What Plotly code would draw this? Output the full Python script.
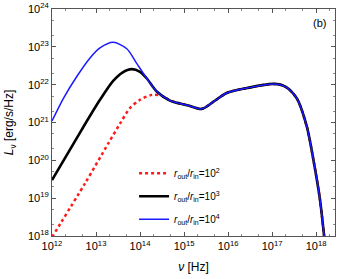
import plotly.graph_objects as go

# log10 frequency [Hz] and log10 luminosity [erg/s/Hz]
NU_R2 = [12.0, 12.75, 13.28, 13.55, 13.77, 14.0, 14.27, 14.49, 14.68, 14.91, 15.10, 15.40, 15.67, 15.97, 16.43, 17.03, 17.30, 17.56, 17.79, 17.94, 18.09, 18.18, 18.22]
L_R2 = [17.97, 19.39, 20.45, 20.98, 21.38, 21.60, 21.73, 21.71, 21.58, 21.50, 21.45, 21.36, 21.55, 21.78, 21.91, 22.02, 21.95, 21.64, 20.89, 20.01, 18.95, 18.03, 17.6]

NU_R3 = [12.0, 12.67, 13.09, 13.39, 13.60, 13.81, 14.00, 14.15, 14.38, 14.68, 14.91, 15.10, 15.40, 15.67, 15.97, 16.43, 17.03, 17.30, 17.56, 17.79, 17.94, 18.09, 18.18, 18.22]
L_R3 = [19.48, 20.80, 21.60, 22.10, 22.32, 22.41, 22.34, 22.17, 21.82, 21.58, 21.50, 21.45, 21.36, 21.55, 21.78, 21.91, 22.02, 21.95, 21.64, 20.89, 20.01, 18.95, 18.03, 17.6]

NU_R4 = [12.0, 12.26, 12.56, 12.86, 13.09, 13.39, 13.70, 13.92, 14.15, 14.38, 14.68, 14.91, 15.10, 15.40, 15.67, 15.97, 16.43, 17.03, 17.30, 17.56, 17.79, 17.94, 18.09, 18.18, 18.22]
L_R4 = [21.04, 21.64, 22.21, 22.70, 22.97, 23.12, 22.95, 22.57, 22.17, 21.82, 21.58, 21.50, 21.45, 21.36, 21.55, 21.78, 21.91, 22.02, 21.95, 21.64, 20.89, 20.01, 18.95, 18.03, 17.6]

LABELS = ["<i>r</i><sub>out</sub>/<i>r</i><sub>in</sub>=10<sup>2</sup>",
          "<i>r</i><sub>out</sub>/<i>r</i><sub>in</sub>=10<sup>3</sup>",
          "<i>r</i><sub>out</sub>/<i>r</i><sub>in</sub>=10<sup>4</sup>"]

X_TICKS = [12, 13, 14, 15, 16, 17, 18]
Y_TICKS = [18, 19, 20, 21, 22, 23, 24]

FONT = "Liberation Sans, Arial, sans-serif"

def lin(v):
    return [10.0 ** float(a) for a in v]

fig = go.Figure()
fig.add_trace(go.Scatter(x=lin(NU_R2), y=lin(L_R2), mode="lines", name=LABELS[0], legendgroup="a",
                         line=dict(color="#ff1a1a", width=2.5, dash="dot", shape="spline", smoothing=0.8)))
fig.add_trace(go.Scatter(x=lin(NU_R3), y=lin(L_R3), mode="lines", name=LABELS[1], legendgroup="b",
                         line=dict(color="black", width=2.6, shape="spline", smoothing=0.8)))
fig.add_trace(go.Scatter(x=lin(NU_R4), y=lin(L_R4), mode="lines", name=LABELS[2], legendgroup="c",
                         line=dict(color="#1a1aff", width=1.5, shape="spline", smoothing=0.8)))

axis_common = dict(
    type="log", showgrid=False, zeroline=False, showline=True, linecolor="#555555", linewidth=1,
    mirror="ticks", ticks="inside", ticklen=4, tickcolor="#555555", automargin=False,
    minor=dict(ticks="inside", ticklen=2, tickcolor="#888888", showgrid=False),
    tickfont=dict(family=FONT, size=11, color="black"),
)

fig.update_xaxes(**axis_common, range=[12, 18.43],
                 tickvals=lin(X_TICKS), ticktext=[f"10<sup>{t}</sup>" for t in X_TICKS],
                 title=dict(text="<i>ν</i> [Hz]", font=dict(family=FONT, size=12, color="black"), standoff=11))
fig.update_yaxes(**axis_common, range=[18, 24],
                 tickvals=lin(Y_TICKS), ticktext=[f"10<sup>{t}</sup>" for t in Y_TICKS],
                 title=dict(text="<i>L</i><sub>ν</sub> [erg/s/Hz]", font=dict(family=FONT, size=12, color="black"), standoff=11))

fig.add_annotation(x=0.975, y=0.94, xref="paper", yref="paper", text="(b)", showarrow=False,
                   font=dict(family=FONT, size=11, color="black"), xanchor="right", yanchor="middle")

fig.update_layout(
    width=348, height=279,
    margin=dict(l=52, r=13, t=9, b=43),
    paper_bgcolor="white", plot_bgcolor="white",
    font=dict(family=FONT, size=10, color="black"),
    legend=dict(x=0.29, y=0.34, xanchor="left", yanchor="top", bgcolor="rgba(0,0,0,0)",
                font=dict(family=FONT, size=10), tracegroupgap=4, itemwidth=30),
)

fig.write_html("out.html", config={"displayModeBar": False},
               post_script="document.body.style.margin='0';document.body.style.overflow='hidden';")
